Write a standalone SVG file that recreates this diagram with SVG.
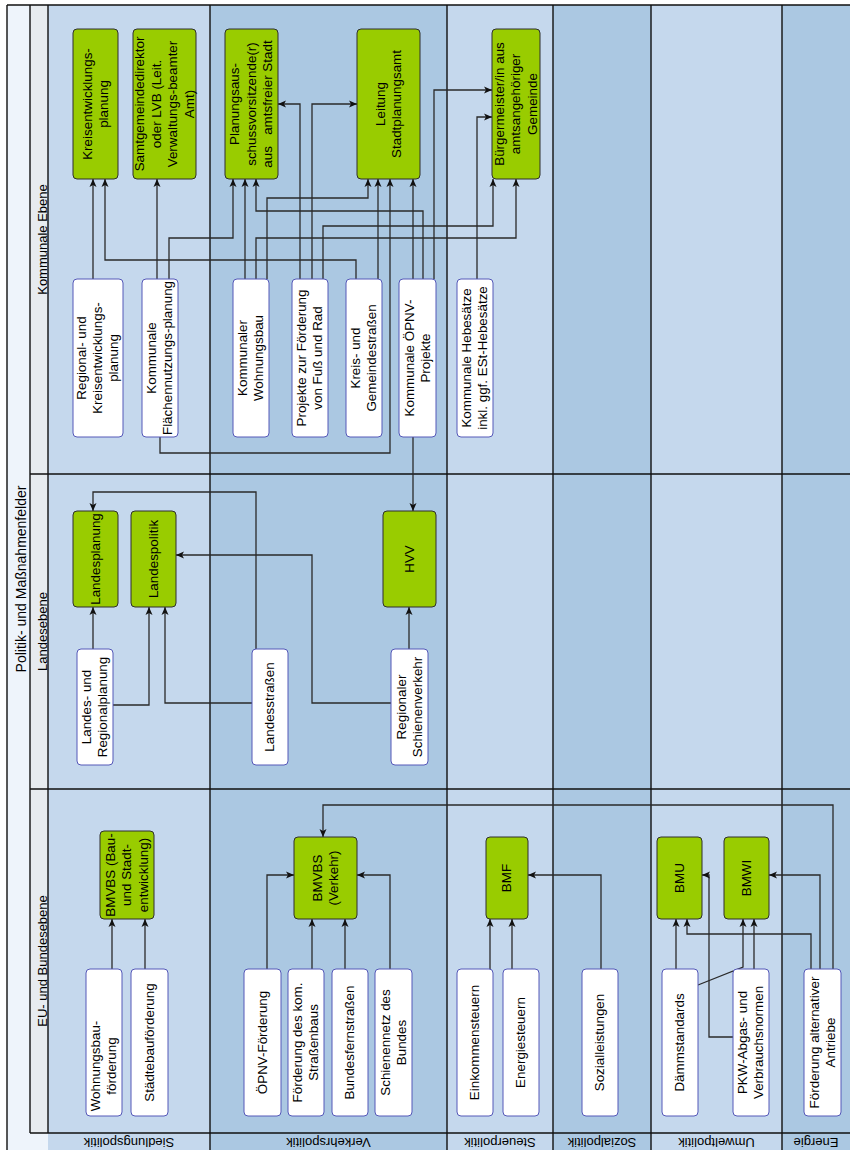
<svg xmlns="http://www.w3.org/2000/svg" width="850" height="1150" viewBox="0 0 850 1150">
<defs>
<style>
.lt{fill:#c5d8ed}
.dk{fill:#abc8e2}
.gl{stroke:#111;stroke-width:1.4;fill:none}
.g{fill:#99cc00;stroke:#2f2f2f;stroke-width:1}
.w{fill:#fff;stroke:#5558b8;stroke-width:1}
.t{font-family:"Liberation Sans",Arial,sans-serif;font-size:13.4px;fill:#000;text-anchor:middle}
.c path{fill:none;stroke:#2a2a2a;stroke-width:1.3;marker-end:url(#a)}
</style>
<marker id="a" markerUnits="userSpaceOnUse" viewBox="0 0 8 8" markerWidth="8" markerHeight="8" refX="8" refY="4" orient="auto">
<path d="M0,0.5 L8,4 L0,7.5 L2,4 z" fill="#111"/>
</marker>
</defs>
<rect width="850" height="1150" fill="#fff"/>
<g id="lanes">
<rect x="7" y="5" width="23" height="1145" fill="#eef4fb"/>
<rect x="30" y="5" width="18" height="1128" fill="#e7ebef"/>
<rect x="30" y="1133" width="18" height="17" fill="#eef4fb"/>
<rect class="lt" x="48" y="5" width="162" height="1145"/>
<rect class="dk" x="210" y="5" width="237" height="1145"/>
<rect class="lt" x="447" y="5" width="106" height="1145"/>
<rect class="dk" x="553" y="5" width="98" height="1145"/>
<rect class="lt" x="651" y="5" width="131" height="1145"/>
<rect class="dk" x="782" y="5" width="68" height="1145"/>
<path class="gl" d="M7,5 H850 M7,5 V1150 M30,5 V1133 M48,5 V1133 M210,5 V1150 M447,5 V1150 M553,5 V1150 M651,5 V1150 M782,5 V1150 M30,474 H850 M30,789 H850 M30,1133 H850"/>
<text class="t" style="font-size:14px" transform="translate(26,579) rotate(-90)">Politik- und Maßnahmenfelder</text>
<text class="t" style="font-size:13px" transform="translate(46.5,239.5) rotate(-90)">Kommunale Ebene</text>
<text class="t" style="font-size:13px" transform="translate(46.5,631.5) rotate(-90)">Landesebene</text>
<text class="t" style="font-size:13px" transform="translate(46.5,961) rotate(-90)">EU- und Bundesebene</text>
<text class="t" style="font-size:13px" transform="translate(129,1142) rotate(180)" y="4.5">Siedlungspolitik</text>
<text class="t" style="font-size:13px" transform="translate(328.5,1142) rotate(180)" y="4.5">Verkehrspolitik</text>
<text class="t" style="font-size:13px" transform="translate(500,1142) rotate(180)" y="4.5">Steuerpolitik</text>
<text class="t" style="font-size:13px" transform="translate(602,1142) rotate(180)" y="4.5">Sozialpolitik</text>
<text class="t" style="font-size:13px" transform="translate(716.5,1142) rotate(180)" y="4.5">Umweltpolitik</text>
<text class="t" style="font-size:13px" transform="translate(816,1142) rotate(180)" y="4.5">Energie</text>
</g>
<g id="connectors" class="c">
<path d="M93,279 V179"/>
<path d="M356,279 V260 H105 V179"/>
<path d="M157,279 V179"/>
<path d="M169,279 V238 H233 V179"/>
<path d="M160,437 V453 H390 V179"/>
<path d="M245,279 V179"/>
<path d="M256,279 V238 H516 V179"/>
<path d="M267,279 V198 H368 V179"/>
<path d="M423,279 V211 H256 V179"/>
<path d="M300,279 V104 H278"/>
<path d="M312,279 V104 H357"/>
<path d="M323,279 V226 H493 V179"/>
<path d="M378,279 V179"/>
<path d="M413,279 V179"/>
<path d="M434,279 V90 H492"/>
<path d="M477,279 V117 H492"/>
<path d="M413,437 V511"/>
<path d="M93,649 V607"/>
<path d="M113,705 H149 V607"/>
<path d="M256,649 V492 H93 V511"/>
<path d="M252,703 H165 V607"/>
<path d="M391,703 H312 V555 H176"/>
<path d="M409,649 V607"/>
<path d="M112,969 V919"/>
<path d="M145,969 V919"/>
<path d="M267,969 V875 H294"/>
<path d="M312,969 V919"/>
<path d="M345,969 V919"/>
<path d="M390,969 V875 H357"/>
<path d="M833,969 V805 H323 V837"/>
<path d="M490,969 V919"/>
<path d="M512,969 V919"/>
<path d="M601,969 V875 H528"/>
<path d="M676,969 V919"/>
<path d="M698,985 L743,967 V919"/>
<path d="M733,1037 H709 V875 H702"/>
<path d="M754,969 V919"/>
<path d="M811,969 V934 H687 V919"/>
<path d="M820,969 V875 H769"/>
</g>
<g id="n-kreisentwicklungsplanung"><rect class="g" x="73" y="29" width="45" height="150" rx="4"/>
<text class="t" transform="translate(95.5,104) rotate(-90)"><tspan x="0" y="-4">Kreisentwicklungs-</tspan><tspan x="0" y="12.5">planung</tspan></text></g>
<g id="n-samtgemeindedirektor"><rect class="g" x="133" y="29" width="63" height="150" rx="4"/>
<text class="t" transform="translate(164.5,104) rotate(-90)"><tspan x="0" y="-20.45">Samtgemeindedirektor</tspan><tspan x="0" y="-3.95">oder LVB (Leit.</tspan><tspan x="0" y="12.55">Verwaltungs-beamter</tspan><tspan x="0" y="29.05">Amt)</tspan></text></g>
<g id="n-planungsausschuss"><rect class="g" x="225" y="29" width="53" height="150" rx="4"/>
<text class="t" transform="translate(251.5,104) rotate(-90)"><tspan x="0" y="-12.2">Planungsaus-</tspan><tspan x="0" y="4.3">schussvorsitzende(r)</tspan><tspan x="0" y="20.8">aus&#160;&#160; amtsfreier Stadt</tspan></text></g>
<g id="n-leitung-stadtplanungsamt"><rect class="g" x="357" y="29" width="63" height="150" rx="4"/>
<text class="t" transform="translate(388.5,104) rotate(-90)"><tspan x="0" y="-4">Leitung</tspan><tspan x="0" y="12.5">Stadtplanungsamt</tspan></text></g>
<g id="n-buergermeister"><rect class="g" x="492" y="29" width="48" height="150" rx="4"/>
<text class="t" transform="translate(516,104) rotate(-90)"><tspan x="0" y="-12.2">Bürgermeister/in aus</tspan><tspan x="0" y="4.3">amtsangehöriger</tspan><tspan x="0" y="20.8">Gemeinde</tspan></text></g>
<g id="n-regional-kreisentwicklungsplanung"><rect class="w" x="73" y="279" width="50" height="158" rx="4"/>
<text class="t" transform="translate(98,358) rotate(-90)"><tspan x="0" y="-11.7">Regional- und</tspan><tspan x="0" y="4.3">Kreisentwicklungs-</tspan><tspan x="0" y="20.3">planung</tspan></text></g>
<g id="n-flaechennutzungsplanung"><rect class="w" x="142" y="279" width="36" height="158" rx="4"/>
<text class="t" transform="translate(160,358) rotate(-90)"><tspan x="0" y="-3.7">Kommunale</tspan><tspan x="0" y="12.3">Flächennutzungs-planung</tspan></text></g>
<g id="n-kommunaler-wohnungsbau"><rect class="w" x="233" y="279" width="36" height="158" rx="4"/>
<text class="t" transform="translate(251,358) rotate(-90)"><tspan x="0" y="-3.7">Kommunaler</tspan><tspan x="0" y="12.3">Wohnungsbau</tspan></text></g>
<g id="n-projekte-fuss-rad"><rect class="w" x="292" y="279" width="36" height="158" rx="4"/>
<text class="t" transform="translate(310,358) rotate(-90)"><tspan x="0" y="-3.7">Projekte zur Förderung</tspan><tspan x="0" y="12.3">von Fuß und Rad</tspan></text></g>
<g id="n-kreis-gemeindestrassen"><rect class="w" x="346" y="279" width="36" height="158" rx="4"/>
<text class="t" transform="translate(364,358) rotate(-90)"><tspan x="0" y="-3.7">Kreis- und</tspan><tspan x="0" y="12.3">Gemeindestraßen</tspan></text></g>
<g id="n-kommunale-oepnv"><rect class="w" x="399" y="279" width="37" height="158" rx="4"/>
<text class="t" transform="translate(417.5,358) rotate(-90)"><tspan x="0" y="-3.7">Kommunale ÖPNV-</tspan><tspan x="0" y="12.3">Projekte</tspan></text></g>
<g id="n-hebesaetze"><rect class="w" x="457" y="279" width="36" height="158" rx="4"/>
<text class="t" transform="translate(475,358) rotate(-90)"><tspan x="0" y="-3.7">Kommunale Hebesätze</tspan><tspan x="0" y="12.3">inkl. ggf. ESt-Hebesätze</tspan></text></g>
<g id="n-landesplanung"><rect class="g" x="73" y="511" width="45" height="96" rx="4"/>
<text class="t" transform="translate(95.5,559) rotate(-90)" y="4.3">Landesplanung</text></g>
<g id="n-landespolitik"><rect class="g" x="131" y="511" width="45" height="96" rx="4"/>
<text class="t" transform="translate(153.5,559) rotate(-90)" y="4.3">Landespolitik</text></g>
<g id="n-hvv"><rect class="g" x="383" y="511" width="53" height="96" rx="4"/>
<text class="t" transform="translate(409.5,559) rotate(-90)" y="4.3">HVV</text></g>
<g id="n-landes-regionalplanung"><rect class="w" x="77" y="649" width="36" height="116" rx="4"/>
<text class="t" transform="translate(95,707) rotate(-90)"><tspan x="0" y="-3.7">Landes- und</tspan><tspan x="0" y="12.3">Regionalplanung</tspan></text></g>
<g id="n-landesstrassen"><rect class="w" x="252" y="649" width="36" height="116" rx="4"/>
<text class="t" transform="translate(270,707) rotate(-90)" y="4.3">Landesstraßen</text></g>
<g id="n-regionaler-schienenverkehr"><rect class="w" x="391" y="649" width="37" height="116" rx="4"/>
<text class="t" transform="translate(409.5,707) rotate(-90)"><tspan x="0" y="-3.7">Regionaler</tspan><tspan x="0" y="12.3">Schienenverkehr</tspan></text></g>
<g id="n-bmvbs-bau"><rect class="g" x="100" y="831" width="54" height="88" rx="4"/>
<text class="t" transform="translate(127,875) rotate(-90)"><tspan x="0" y="-12.2">BMVBS (Bau-</tspan><tspan x="0" y="4.3">und Stadt-</tspan><tspan x="0" y="20.8">entwicklung)</tspan></text></g>
<g id="n-bmvbs-verkehr"><rect class="g" x="294" y="837" width="63" height="82" rx="4"/>
<text class="t" transform="translate(325.5,878) rotate(-90)"><tspan x="0" y="-4">BMVBS</tspan><tspan x="0" y="12.5">(Verkehr)</tspan></text></g>
<g id="n-bmf"><rect class="g" x="486" y="837" width="42" height="82" rx="4"/>
<text class="t" transform="translate(507,878) rotate(-90)" y="4.3">BMF</text></g>
<g id="n-bmu"><rect class="g" x="657" y="837" width="45" height="82" rx="4"/>
<text class="t" transform="translate(679.5,878) rotate(-90)" y="4.3">BMU</text></g>
<g id="n-bmwi"><rect class="g" x="724" y="837" width="45" height="82" rx="4"/>
<text class="t" transform="translate(746.5,878) rotate(-90)" y="4.3">BMWI</text></g>
<g id="n-wohnungsbaufoerderung"><rect class="w" x="86" y="969" width="36" height="147" rx="4"/>
<text class="t" transform="translate(104,1066) rotate(-90)"><tspan x="0" y="-3.7">Wohnungsbau-</tspan><tspan x="0" y="12.3">förderung</tspan></text></g>
<g id="n-staedtebaufoerderung"><rect class="w" x="131" y="969" width="37" height="147" rx="4"/>
<text class="t" transform="translate(149.5,1042.5) rotate(-90)" y="4.3">Städtebauförderung</text></g>
<g id="n-oepnv-foerderung"><rect class="w" x="244" y="969" width="37" height="147" rx="4"/>
<text class="t" transform="translate(262.5,1042.5) rotate(-90)" y="4.3">ÖPNV-Förderung</text></g>
<g id="n-strassenbau"><rect class="w" x="288" y="969" width="36" height="147" rx="4"/>
<text class="t" transform="translate(306,1042.5) rotate(-90)"><tspan x="0" y="-3.7">Förderung des kom.</tspan><tspan x="0" y="12.3">Straßenbaus</tspan></text></g>
<g id="n-bundesfernstrassen"><rect class="w" x="332" y="969" width="36" height="147" rx="4"/>
<text class="t" transform="translate(350,1042.5) rotate(-90)" y="4.3">Bundesfernstraßen</text></g>
<g id="n-schienennetz"><rect class="w" x="375" y="969" width="37" height="147" rx="4"/>
<text class="t" transform="translate(393.5,1042.5) rotate(-90)"><tspan x="0" y="-3.7">Schienennetz des</tspan><tspan x="0" y="12.3">Bundes</tspan></text></g>
<g id="n-einkommensteuern"><rect class="w" x="457" y="969" width="36" height="147" rx="4"/>
<text class="t" transform="translate(475,1042.5) rotate(-90)" y="4.3">Einkommensteuern</text></g>
<g id="n-energiesteuern"><rect class="w" x="503" y="969" width="36" height="147" rx="4"/>
<text class="t" transform="translate(521,1042.5) rotate(-90)" y="4.3">Energiesteuern</text></g>
<g id="n-sozialleistungen"><rect class="w" x="582" y="969" width="36" height="147" rx="4"/>
<text class="t" transform="translate(600,1042.5) rotate(-90)" y="4.3">Sozialleistungen</text></g>
<g id="n-daemmstandards"><rect class="w" x="662" y="969" width="36" height="147" rx="4"/>
<text class="t" transform="translate(680,1042.5) rotate(-90)" y="4.3">Dämmstandards</text></g>
<g id="n-pkw-normen"><rect class="w" x="733" y="969" width="36" height="147" rx="4"/>
<text class="t" transform="translate(751,1042.5) rotate(-90)"><tspan x="0" y="-3.7">PKW-Abgas- und</tspan><tspan x="0" y="12.3">Verbrauchsnormen</tspan></text></g>
<g id="n-alternative-antriebe"><rect class="w" x="804" y="969" width="37" height="147" rx="4"/>
<text class="t" transform="translate(822.5,1042.5) rotate(-90)"><tspan x="0" y="-3.7">Förderung alternativer</tspan><tspan x="0" y="12.3">Antriebe</tspan></text></g>
</svg>
